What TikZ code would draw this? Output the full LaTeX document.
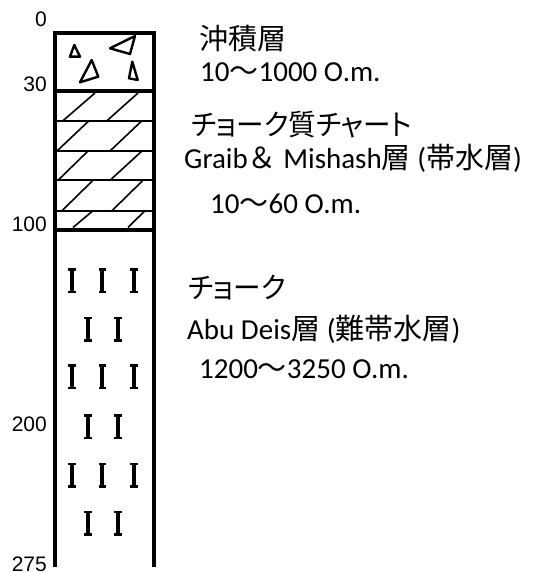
\documentclass[tikz,border=0pt]{standalone}
\usepackage{fontspec}
\setmainfont{Carlito}
\newfontfamily\cjk{Noto Sans CJK JP}
\newfontfamily\cjkp[RawFeature=+palt,FakeStretch=0.95]{Noto Sans CJK JP}
\newfontfamily\axisfont{Liberation Sans}
\begin{document}
\begin{tikzpicture}[x=1pt,y=-1pt,
  wall/.style={line width=4pt,line cap=butt,line join=miter},
  bed/.style={line width=2pt},
  hatch/.style={line width=1.6pt},
  clast/.style={line width=2.4pt,line join=round},
  depth/.style={font=\axisfont\fontsize{21}{22}\selectfont,anchor=east,inner sep=0pt},
  desc/.style={font=\fontsize{29}{31}\selectfont,anchor=base west,inner sep=0pt}]
\useasboundingbox (0,0) rectangle (532,572);

% column outline and layer boundaries
\draw[wall] (54.5,566.5) -- (54.5,33.5) -- (153.5,33.5) -- (153.5,566.5);
\draw[wall] (54.5,91) -- (153.5,91);
\draw[wall] (54.5,229.5) -- (153.5,229.5);

% chert beds
\foreach \y in {120.7,151,180.3,210.7}
  \draw[bed] (56.5,\y) -- (151.5,\y);
\draw[hatch] (95,93) -- (63,120.7)  (138,93) -- (107,120.7);
\draw[hatch] (89,120.7) -- (57,151)  (142,120.7) -- (110,151);
\draw[hatch] (88,151) -- (58,180.3)  (142,151) -- (110,180.3);
\draw[hatch] (93,180.3) -- (62,210.7)  (143,180.3) -- (112,210.7);
\draw[hatch] (93,210.7) -- (73,227.5)  (145,210.7) -- (128,227.5);

% alluvial clasts
\draw[clast] (74.3,45) -- (70,56.7) -- (80,56.7) -- cycle;
\draw[clast] (91.7,60) -- (80,82.3) -- (98.3,76.7) -- cycle;
\draw[clast] (135,36) -- (110,48.3) -- (130,54) -- cycle;
\draw[clast] (132.3,61.7) -- (129,78.3) -- (137.7,80) -- cycle;

% chalk symbols
\foreach \x/\y in {71.7/280.5,102.3/280.5,134/280.5,
                   87.7/329,117.7/329,
                   71.7/376.5,102.3/376.5,134/376.5,
                   87.7/426.5,117.7/426.5,
                   71.7/475,102.3/475,134/475,
                   87.7/523,117.7/523}{
  \fill (\x-2,\y-12.5) rectangle (\x+2,\y+12.5);
  \fill (\x-3.8,\y-12.5) rectangle (\x+3.8,\y-10);
  \fill (\x-3.8,\y+10) rectangle (\x+3.8,\y+12.5);
}

% depth scale
\node[depth] (d0) at (47,19) {0};
\node[depth] (d30) at (47,84) {30};
\node[depth] (d100) at (47,224) {100};
\node[depth] (d200) at (47,424) {200};
\node[depth] (d275) at (47,564) {275};

% layer descriptions
\node[desc] (l1a) at (199,50) {{\cjk 沖積層}};
\node[desc] (l1b) at (200,82) {10{\cjk 〜}1000 O.m.};
\node[desc] (l2a) at (191,136) {{\cjkp チョーク質チャート}};
\node[desc] (l2b) at (184,168) {Graib{\cjk ＆} Mishash{\cjk 層} ({\cjk 帯水層})};
\node[desc] (l2c) at (210,213) {10{\cjk 〜}60 O.m.};
\node[desc] (l3a) at (188,298) {{\cjkp チョーク}};
\node[desc] (l3b) at (187,339) {Abu Deis{\cjk 層} ({\cjk 難帯水層})};
\node[desc] (l3c) at (199,378) {1200{\cjk 〜}3250 O.m.};
\end{tikzpicture}
\end{document}
